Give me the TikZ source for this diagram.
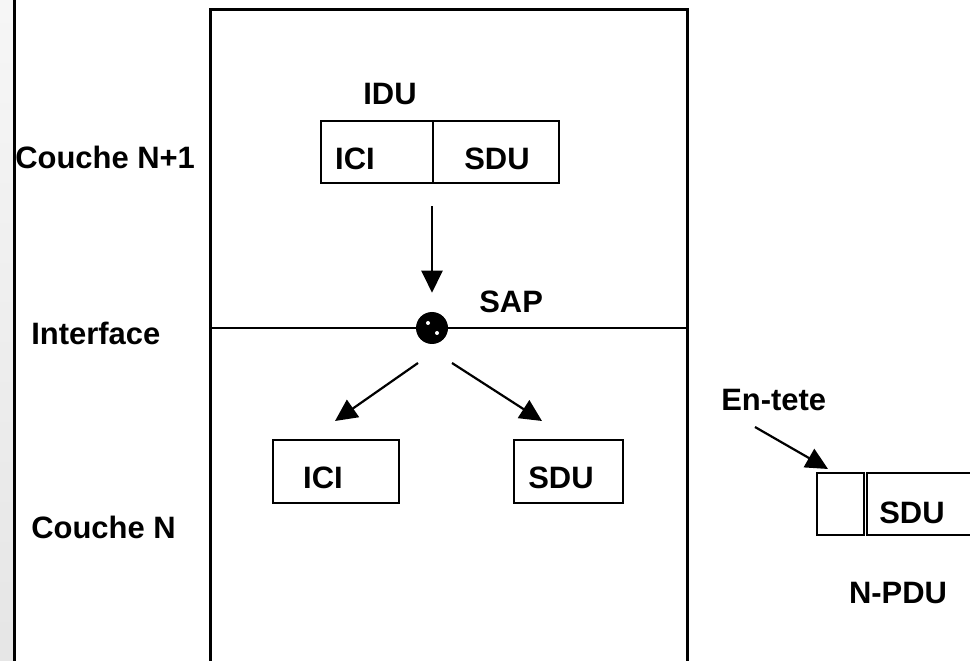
\documentclass[tikz,border=0pt]{standalone}
\usepackage{fontspec}
\setmainfont{Liberation Sans}
\usetikzlibrary{arrows.meta}
\newcommand{\pxu}{0.025cm}
\newcommand{\lblFont}{\fontsize{22}{26}\selectfont\bfseries}

\begin{document}
\begin{tikzpicture}[x=0.025cm, y=-0.025cm]
  \tikzset{lbl/.style={inner sep=0pt, font=\lblFont, anchor=base},
    pdubox/.style={draw, line width=2.2*\pxu, inner sep=0pt},
    flow/.style={line width=2.2*\pxu, -{Triangle[length=22*\pxu, width=21*\pxu]}}}
  \useasboundingbox (0,0) rectangle (970,661);
  \shade[top color=gray!7, bottom color=gray!20] (0,0) rectangle (13,661);
  \draw[line width=3*\pxu] (14.5,0) -- (14.5,661);
  \draw[line width=3*\pxu] (210,661) |- (687,10) -- (687,661);
  \draw[line width=2.2*\pxu] (210,328) -- (687,328);
  \node[pdubox, minimum width=112*\pxu, minimum height=62*\pxu] (ICI-1) at (377,152) {};
  \node[pdubox, minimum width=126*\pxu, minimum height=62*\pxu] (SDU-1) at (496,152) {};
  \node[pdubox, minimum width=126*\pxu, minimum height=63*\pxu] (ICI-2) at (336,471.5) {};
  \node[pdubox, minimum width=109*\pxu, minimum height=63*\pxu] (SDU-2) at (568.5,471.5) {};
  \node[pdubox, minimum width=47*\pxu, minimum height=62*\pxu] (hdr-3) at (840.5,504) {};
  \node[pdubox, minimum width=134*\pxu, minimum height=62*\pxu] (SDU-3) at (934,504) {};
  \node[circle, fill, minimum size=32*\pxu, inner sep=0pt] (SAP-dot) at (432,328) {};
  \fill[white] (428,323) circle (2) (437,333) circle (2);
  \node[lbl, anchor=base west] (couche-n1) at (15,169) {Couche N+1};
  \node[lbl, anchor=base west] (interface) at (31,345) {Interface};
  \node[lbl, anchor=base west] (couche-n) at (31,538) {Couche N};
  \node[lbl] (idu) at (390,105) {IDU};
  \node[lbl] (ICI-1-txt) at (355,170) {ICI};
  \node[lbl] (SDU-1-txt) at (497,170) {SDU};
  \node[lbl, anchor=base west] (sap) at (479,313) {SAP};
  \node[lbl] (ICI-2-txt) at (323,488) {ICI};
  \node[lbl] (SDU-2-txt) at (561,488) {SDU};
  \node[lbl, anchor=base west] (en-tete) at (721,410) {En-tete};
  \node[lbl] (SDU-3-txt) at (912,523) {SDU};
  \node[lbl] (npdu) at (898,603) {N-PDU};
  \coordinate (split-l) at (418,363);
  \coordinate (tip-l) at (335,421);
  \coordinate (split-r) at (452,363);
  \coordinate (tip-r) at (542,421);
  \coordinate (hdr-from) at (755,427);
  \coordinate (hdr-tip) at (828,469);
  \draw[flow, shorten <=22*\pxu, shorten >=19*\pxu] (SAP-dot.north |- ICI-1.south) -- (SAP-dot.north);
  \draw[flow] (split-l) -- (tip-l);
  \draw[flow] (split-r) -- (tip-r);
  \draw[flow] (hdr-from) -- (hdr-tip);
\end{tikzpicture}
\end{document}
